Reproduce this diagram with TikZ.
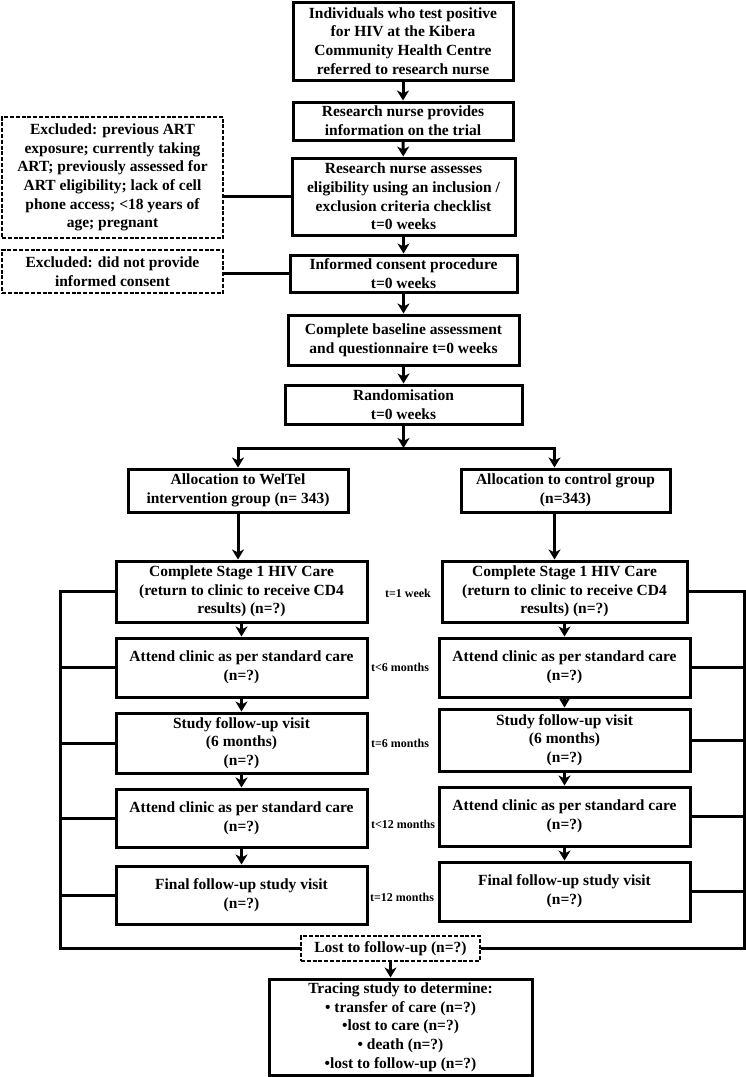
\documentclass[tikz,border=0pt]{standalone}
\usepackage{fontspec}
\setmainfont{Liberation Serif}
\usetikzlibrary{arrows.meta}
\begin{document}
\begin{tikzpicture}
  [x=1pt,y=-1pt,every node/.style={inner sep=0pt,align=center,font=\fontsize{15.5}{18.7}\selectfont\bfseries}]
  \tikzstyle{box} = [draw,line width=3pt]
  \tikzstyle{exbox} = [draw,line width=2.8pt,dash pattern=on 4pt off 1.8pt]
  \tikzstyle{tlabel} = [font=\fontsize{12}{14}\selectfont\bfseries]
  \tikzstyle{link} = [line width=3pt]
  \tikzstyle{arr} = [line width=3pt,-{Stealth[length=10pt,width=12pt,inset=3pt]}]
  \useasboundingbox (0,0) rectangle (746,1077);

  % main column
  \node[box,minimum width=220pt,minimum height=78pt] (referred) at (403,41)
    {Individuals who test positive\\for HIV at the Kibera\\Community Health Centre\\referred to research nurse};
  \node[box,minimum width=220pt,minimum height=38pt] (info) at (403,121)
    {Research nurse provides\\information on the trial};
  \node[box,minimum width=223pt,minimum height=77pt] (assess) at (403.5,196.5)
    {Research nurse assesses\\eligibility using an inclusion /\\exclusion criteria checklist\\t=0 weeks};
  \node[box,minimum width=227pt,minimum height=37pt] (consent) at (403.5,273.5)
    {Informed consent procedure\\t=0 weeks};
  \node[box,minimum width=231pt,minimum height=50pt] (baseline) at (403.5,340)
    {Complete baseline assessment\\and questionnaire t=0 weeks};
  \node[box,minimum width=237pt,minimum height=39pt] (random) at (403.5,404.5)
    {Randomisation\\t=0 weeks};

  % exclusions
  \node[exbox,minimum width=221pt,minimum height=121pt] (exclA) at (112.5,177.5)
    {Excluded: previous ART\\exposure; currently taking\\ART; previously assessed for\\ART eligibility; lack of cell\\phone access; <18 years of\\age; pregnant};
  \node[exbox,minimum width=221pt,minimum height=43pt] (exclB) at (112.5,271.5)
    {Excluded: did not provide\\informed consent};

  % allocation
  \coordinate (split) at (403.5,448);
  \node[box,minimum width=220pt,minimum height=43pt] (allocL) at (238,490.5)
    {Allocation to WelTel\\intervention group (n= 343)};
  \node[box,minimum width=209pt,minimum height=43pt] (allocR) at (565.5,490.5)
    {Allocation to control group\\(n=343)};

  % WelTel arm
  \node[box,minimum width=251pt,minimum height=61pt] (stageL) at (241.5,591.5)
    {Complete Stage 1 HIV Care\\(return to clinic to receive CD4\\results) (n=?)};
  \node[box,minimum width=251pt,minimum height=59pt] (attA-L) at (241.5,667.5)
    {Attend clinic as per standard care\\(n=?)};
  \node[box,minimum width=251pt,minimum height=60pt] (studyL) at (241.5,743)
    {Study follow-up visit\\(6 months)\\(n=?)};
  \node[box,minimum width=251pt,minimum height=58pt] (attB-L) at (241.5,818)
    {Attend clinic as per standard care\\(n=?)};
  \node[box,minimum width=251pt,minimum height=58pt] (finalL) at (241.5,895)
    {Final follow-up study visit\\(n=?)};

  % control arm
  \node[box,minimum width=245pt,minimum height=61pt] (stageR) at (564.5,591.5)
    {Complete Stage 1 HIV Care\\(return to clinic to receive CD4\\results) (n=?)};
  \node[box,minimum width=251pt,minimum height=59pt] (attA-R) at (564.5,667.5)
    {Attend clinic as per standard care\\(n=?)};
  \node[box,minimum width=251pt,minimum height=62pt] (studyR) at (564.5,740)
    {Study follow-up visit\\(6 months)\\(n=?)};
  \node[box,minimum width=251pt,minimum height=59pt] (attB-R) at (564.5,816.5)
    {Attend clinic as per standard care\\(n=?)};
  \node[box,minimum width=251pt,minimum height=59pt] (finalR) at (564.5,891.5)
    {Final follow-up study visit\\(n=?)};

  % time points
  \node[tlabel] (t1) at (408,593) {t=1 week};
  \node[tlabel] (t2) at (400,667) {t<6 months};
  \node[tlabel] (t3) at (400,743) {t=6 months};
  \node[tlabel] (t4) at (403,824) {t<12 months};
  \node[tlabel] (t5) at (402,897) {t=12 months};

  % loss and tracing
  \node[exbox,minimum width=179pt,minimum height=25pt] (lost) at (390.5,948.5)
    {Lost to follow-up (n=?)};
  \node[box,minimum width=263pt,minimum height=96pt] (tracing) at (400.5,1027)
    {Tracing study to determine:\\• transfer of care (n=?)\\•lost to care (n=?)\\• death (n=?)\\•lost to follow-up (n=?)};
  \coordinate (lcorner) at (60,948.5);
  \coordinate (rcorner) at (744.5,948.5);

\foreach \source/\dest in {referred/info,info/assess,assess/consent,consent/baseline,baseline/random}
   \draw[arr] (\source) -- (\dest);
\draw[arr] (random) -- (split);
\draw[arr] (split) -| (allocL);
\draw[arr] (split) -| ([xshift=-11pt]allocR.north);
\draw[arr] (allocL) -- (allocL |- stageL.north);
\draw[arr] ([xshift=-11pt]allocR.south) -- ([xshift=-11pt]allocR.south |- stageR.north);
\foreach \source/\dest in {stageL/attA-L,attA-L/studyL,studyL/attB-L,attB-L/finalL,
                           stageR/attA-R,attA-R/studyR,studyR/attB-R,attB-R/finalR}
   \draw[arr] (\source) -- (\dest);

\draw[link] (assess.west) -- (assess.west -| exclA.east);
\draw[link] (consent.west) -- (consent.west -| exclB.east);

\draw[link] (stageL.west) -| (lcorner) -- (lost.west);
\draw[link] (stageR.east) -| (rcorner) -- (lost.east);
\foreach \n in {attA-L,studyL,attB-L,finalL}
   \draw[link] (\n.west) -- (\n.west -| lcorner);
\foreach \n in {attA-R,studyR,attB-R,finalR}
   \draw[link] (\n.east) -- (\n.east -| rcorner);
\draw[arr] (lost) -- (lost |- tracing.north);

  \end{tikzpicture}
\end{document}
